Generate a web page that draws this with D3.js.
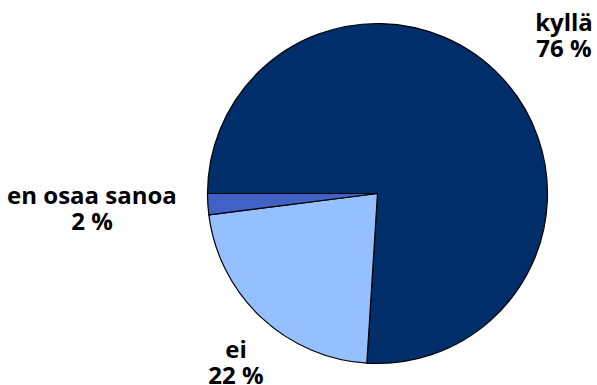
<!DOCTYPE html>
<html>
<head>
<meta charset="utf-8">
<script src="https://cdn.jsdelivr.net/npm/d3@7"></script>
<style>
  html, body { margin: 0; padding: 0; background: #fff; }
  svg { display: block; }
  text { font-family: "Open Sans", "Noto Sans", sans-serif; font-weight: bold; fill: #000; }
</style>
</head>
<body>
<script>
// Answer categories and their shares (%)
const categories = ["kyllä", "ei", "en osaa sanoa"];
const values = [76, 22, 2];
const colors = ["#002E6B", "#94C0FF", "#3F62C4"];

const width = 597, height = 385;
const cx = 377.5, cy = 193.5, radius = 170;

const svg = d3.select("body").append("svg")
  .attr("width", width).attr("height", height);

const data = categories.map((c, i) => ({ name: c, value: values[i], color: colors[i] }));

// Slices start at 9 o'clock and run clockwise
const pie = d3.pie().sort(null).value(d => d.value)
  .startAngle(-Math.PI / 2).endAngle(3 * Math.PI / 2);
const arc = d3.arc().innerRadius(0).outerRadius(radius);

const g = svg.append("g").attr("transform", `translate(${cx},${cy})`);
g.selectAll("path").data(pie(data)).join("path")
  .attr("d", arc)
  .attr("fill", d => d.data.color)
  .attr("stroke", "#000")
  .attr("stroke-width", 1.2)
  .attr("stroke-linejoin", "round");

// Labels: name on first line, percentage below
const labelPos = {
  "kyllä": [564, 31],
  "ei": [236, 358],
  "en osaa sanoa": [92, 204]
};
const fs = 24;
data.forEach(d => {
  const [x, y] = labelPos[d.name];
  const t = svg.append("text").attr("x", x).attr("y", y)
    .attr("text-anchor", "middle").attr("font-size", fs);
  t.append("tspan").attr("x", x).attr("dy", 0).text(d.name);
  t.append("tspan").attr("x", x).attr("dy", 26).text(d.value + " %");
});
</script>
</body>
</html>
